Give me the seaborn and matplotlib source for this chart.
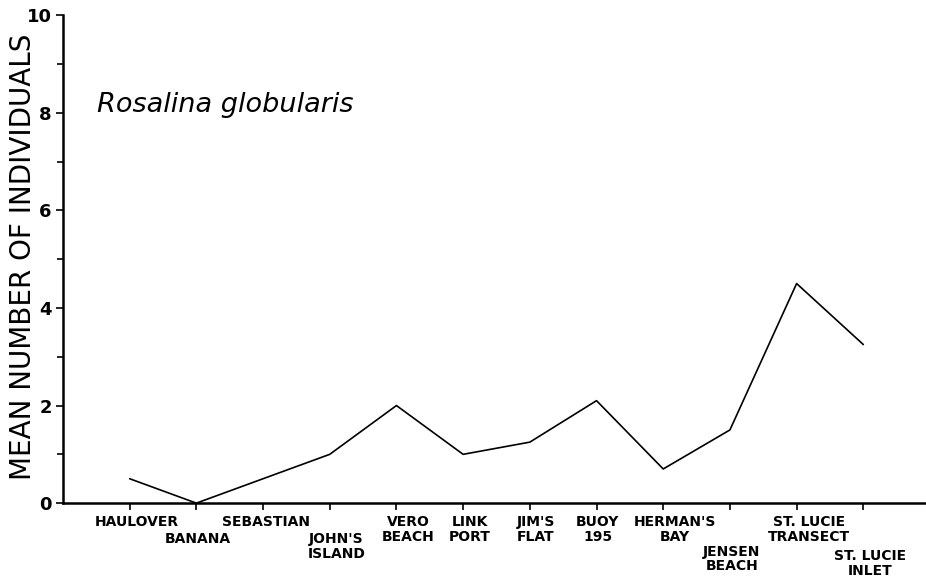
import numpy as np
import matplotlib.pyplot as plt
import seaborn as sns
from matplotlib.ticker import MultipleLocator

# sampling sites, north to south
sites = ["HAULOVER", "BANANA", "SEBASTIAN", "JOHN'S\nISLAND", "VERO\nBEACH",
         "LINK\nPORT", "JIM'S\nFLAT", "BUOY\n195", "HERMAN'S\nBAY",
         "JENSEN\nBEACH", "ST. LUCIE\nTRANSECT", "ST. LUCIE\nINLET"]
mean_individuals = [0.5, 0.0, 0.5, 1.0, 2.0, 1.0, 1.25, 2.1, 0.7, 1.5, 4.5, 3.25]

# label placement under each tick (x shift in data units, y top in axes fraction)
label_dx = [0.1, 0.02, 0.05, 0.1, 0.18, 0.1, 0.09, 0.02, 0.18, 0.03, 0.19, 0.1]
label_y = [-0.025, -0.060, -0.025, -0.060, -0.025, -0.025, -0.025, -0.025,
           -0.025, -0.085, -0.025, -0.095]

sns.set_style("ticks", {"axes.edgecolor": "black", "text.color": "black",
                        "xtick.color": "black", "ytick.color": "black",
                        "axes.labelcolor": "black"})
plt.rcParams['font.family'] = ['DejaVu Sans']

fig = plt.figure(figsize=(9.26, 5.83), dpi=100)
ax = fig.add_axes([0.068, 0.137, 0.932, 0.837])

pos = np.arange(len(sites))
sns.lineplot(x=pos, y=mean_individuals, color="black", linewidth=1.2, ax=ax)

ax.set_xlim(-1, 11.94)
ax.set_ylim(0, 10)
ax.set_xticks(pos)
ax.set_xticklabels([])
ax.yaxis.set_major_locator(MultipleLocator(2))
ax.yaxis.set_minor_locator(MultipleLocator(1))
ax.tick_params(axis="y", which="major", length=5, width=1.2, labelsize=13, pad=3)
ax.tick_params(axis="y", which="minor", length=4, width=1.2)
ax.tick_params(axis="x", length=5, width=1.2)
for t in ax.get_yticklabels():
    t.set_fontweight("bold")

sns.despine(ax=ax)
for s in ["left", "bottom"]:
    ax.spines[s].set_linewidth(1.8)

for i, (name, dx, yy) in enumerate(zip(sites, label_dx, label_y)):
    ax.text(i + dx, yy, name, transform=ax.get_xaxis_transform(), ha="center",
            va="top", fontsize=10, fontweight="bold", linespacing=1.05,
            multialignment="center")

ax.set_ylabel("MEAN NUMBER OF INDIVIDUALS", fontsize=20)
ax.yaxis.set_label_coords(-0.03, 0.505)
ax.text(0.04, 0.815, "Rosalina globularis", transform=ax.transAxes,
        fontsize=19.5, style="italic", va="center")

fig.savefig("out.png", dpi=100)
